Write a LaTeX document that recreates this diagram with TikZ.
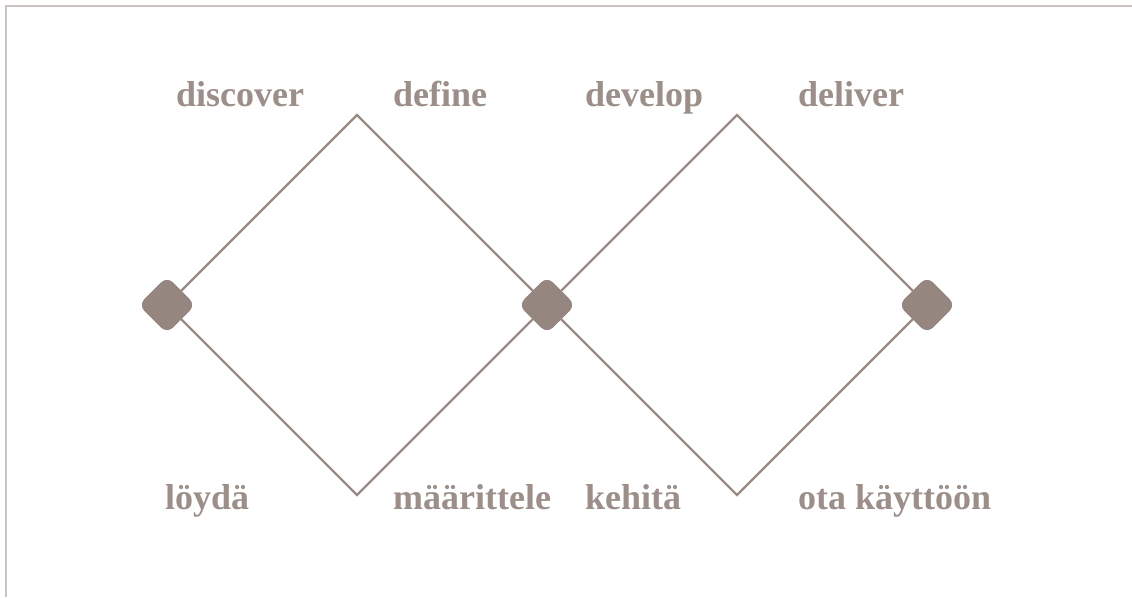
\documentclass[tikz,border=0pt]{standalone}
\usepackage{fontspec}
\setmainfont{Liberation Serif}
\definecolor{framegray}{HTML}{CBC3C0}
\definecolor{linebrown}{HTML}{9A8A84}
\definecolor{nodebrown}{HTML}{968680}
\definecolor{textbrown}{HTML}{9C8E88}
\tikzset{
  hub/.style={shape=rectangle, fill=nodebrown, minimum size=40pt, inner sep=0pt,
    rounded corners=8pt, rotate=45},
  edge/.style={draw=linebrown, line width=2.3pt},
  lbl/.style={anchor=base west, inner sep=0pt, text=textbrown,
    font=\fontsize{36}{36}\selectfont\bfseries},
}
\begin{document}
\begin{tikzpicture}[x=1pt,y=-1pt]
\useasboundingbox (0,0) rectangle (1132,597);
\fill[white] (0,0) rectangle (1132,597);
\draw[framegray, line width=2pt] (6,597) -- (6,5.5) -- (1132,5.5);

\coordinate (t1) at (357,115);
\coordinate (b1) at (357,495);
\coordinate (t2) at (737,115);
\coordinate (b2) at (737,495);

\node[hub] (n1) at (167,305) {};
\node[hub] (n2) at (547,305) {};
\node[hub] (n3) at (927,305) {};

\draw[edge] (n1) -- (t1) -- (n2);
\draw[edge] (n1) -- (b1) -- (n2);
\draw[edge] (n2) -- (t2) -- (n3);
\draw[edge] (n2) -- (b2) -- (n3);

\node[hub] at (n1) {};
\node[hub] at (n2) {};
\node[hub] at (n3) {};

\node[lbl] (l1) at (176,106) {discover};
\node[lbl] (l2) at (393,106) {define};
\node[lbl] (l3) at (585,106) {develop};
\node[lbl] (l4) at (798,106) {deliver};
\node[lbl] (l5) at (165,509) {löydä};
\node[lbl] (l6) at (393,509) {määrittele};
\node[lbl] (l7) at (585,509) {kehitä};
\node[lbl] (l8) at (798,509) {ota käyttöön};
\end{tikzpicture}
\end{document}
